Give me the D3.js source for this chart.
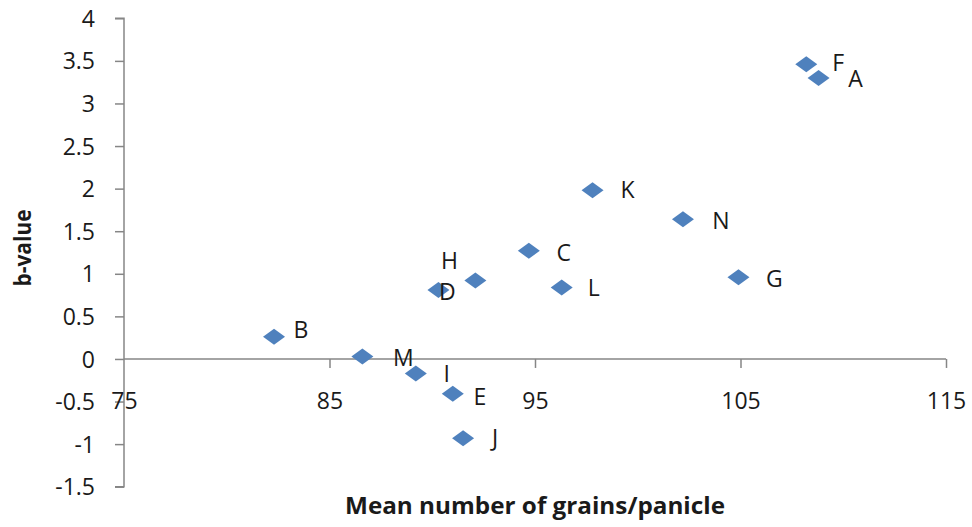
<!DOCTYPE html>
<html>
<head>
<meta charset="utf-8">
<script src="https://cdn.jsdelivr.net/npm/d3@7/dist/d3.min.js"></script>
<style>
  html, body { margin: 0; padding: 0; background: #fff; }
  svg { display: block; }
  .tick text { font-family: "Open Sans", sans-serif; font-size: 23px; fill: #1a1a1a; }
  .lbl { font-family: "Open Sans", sans-serif; font-size: 23px; fill: #1a1a1a; }
  .title { font-family: "Open Sans", sans-serif; font-size: 23px; font-weight: bold; fill: #1a1a1a; }
</style>
</head>
<body>
<svg id="chart" width="972" height="527"></svg>
<script>
// Genotype codes, mean grains per panicle and b-value
const genotypes = ["A", "B", "C", "D", "E", "F", "G", "H", "I", "J", "K", "L", "M", "N"];
const grainsPerPanicle = [108.8, 82.3, 94.7, 90.3, 91.0, 108.2, 104.9, 92.1, 89.2, 91.5, 97.8, 96.3, 86.6, 102.2];
const bValues = [3.30, 0.26, 1.27, 0.81, -0.41, 3.46, 0.96, 0.92, -0.17, -0.93, 1.98, 0.84, 0.03, 1.64];

const xTicks = [75, 85, 95, 105, 115];
const yTicks = [-1.5, -1, -0.5, 0, 0.5, 1, 1.5, 2, 2.5, 3, 3.5, 4];

// Label placement relative to each marker (pixels)
const labelShift = {
  A: [37, 1], B: [27, -7], C: [35, 2], D: [9, 2], E: [27, 3], F: [32, -1], G: [36, 2],
  H: [-26, -20], I: [31, 1], J: [32, 0], K: [35, 0], L: [32, 1], M: [41, 2], N: [38, 2]
};

const svg = d3.select("#chart");
const x = d3.scaleLinear().domain([75, 115]).range([124, 946]);
const y = d3.scaleLinear().domain([-1.5, 4]).range([486.7, 18.3]);
const axisColor = "#868686";

// Vertical axis on the left
const yAxis = svg.append("g")
  .attr("transform", `translate(${x(75)},0)`)
  .call(d3.axisLeft(y).tickValues(yTicks).tickSize(9).tickPadding(20).tickFormat(d => String(d)));
yAxis.select(".domain").attr("stroke", axisColor).attr("stroke-width", 1.5).attr("d", `M-9,${y(4)}H0V${y(-1.5)}H-9`);
yAxis.selectAll(".tick line").attr("stroke", axisColor).attr("stroke-width", 1.5);
yAxis.selectAll(".tick text").attr("dy", "0.35em");

// Horizontal axis crossing at b = 0
const xAxis = svg.append("g")
  .attr("transform", `translate(0,${y(0)})`)
  .call(d3.axisBottom(x).tickValues(xTicks).tickSize(9).tickFormat(d => String(d)));
xAxis.select(".domain").attr("stroke", axisColor).attr("stroke-width", 1.5).attr("d", `M${x(75)},0H${x(115)}`);
xAxis.selectAll(".tick line").attr("stroke", axisColor).attr("stroke-width", 1.5)
  .filter(d => d === 75).remove();
xAxis.selectAll(".tick text").attr("y", 42).attr("dy", "0.35em");

// Diamond markers
const points = genotypes.map((g, i) => ({ g, gx: grainsPerPanicle[i], b: bValues[i] }));
svg.append("g").selectAll("path")
  .data(points)
  .join("path")
  .attr("transform", d => `translate(${x(d.gx)},${y(d.b)})`)
  .attr("d", "M0,-8L11,0L0,8L-11,0Z")
  .attr("fill", "#4f81bd");

// Point labels
svg.append("g").selectAll("text")
  .data(points)
  .join("text")
  .attr("class", "lbl")
  .attr("x", d => x(d.gx) + labelShift[d.g][0])
  .attr("y", d => y(d.b) + labelShift[d.g][1])
  .attr("text-anchor", "middle")
  .attr("dy", "0.35em")
  .text(d => d.g);

// Axis titles
svg.append("text").attr("class", "title")
  .attr("x", 535).attr("y", 506).attr("text-anchor", "middle").attr("dy", "0.35em")
  .attr("textLength", 380).attr("lengthAdjust", "spacingAndGlyphs")
  .text("Mean number of grains/panicle");
svg.append("text").attr("class", "title")
  .attr("transform", "translate(23,248) rotate(-90)")
  .attr("text-anchor", "middle").attr("dy", "0.35em")
  .attr("textLength", 77).attr("lengthAdjust", "spacingAndGlyphs")
  .text("b-value");
</script>
</body>
</html>
